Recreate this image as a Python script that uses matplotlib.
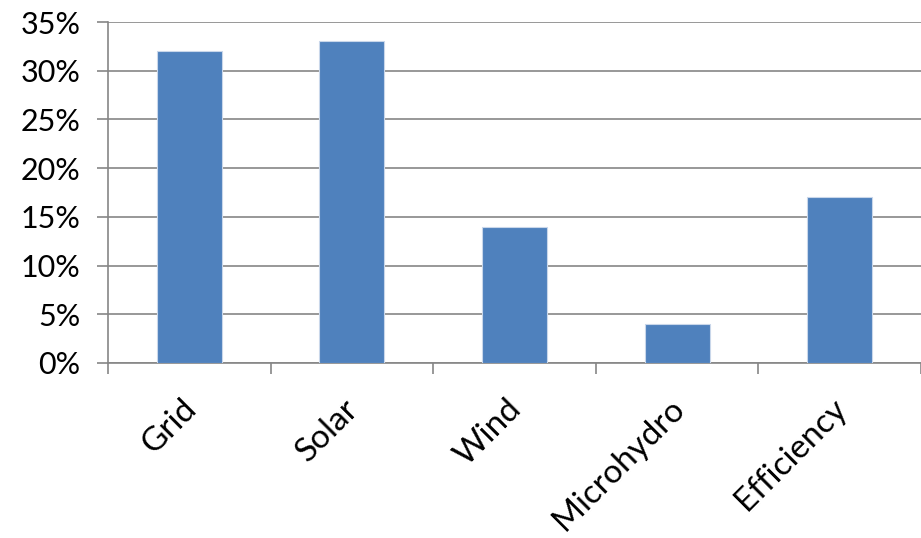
import matplotlib
matplotlib.use("Agg")
import matplotlib.pyplot as plt
from matplotlib.ticker import MultipleLocator, FuncFormatter, FixedLocator

categories = ["Grid", "Solar", "Wind", "Microhydro", "Efficiency"]
values = [32, 33, 14, 4, 17]

plt.rcParams['font.family'] = ['Lato', 'DejaVu Sans']

fig = plt.figure(figsize=(9.21, 5.38), dpi=100)
ax = fig.add_axes([108/921, 1-363/538, 1-108/921, (363-22)/538])

x = list(range(len(categories)))
ax.bar(x, values, width=0.4, color="#4F81BD", edgecolor="#C9D7EA", linewidth=0.8, zorder=3)

ax.set_xlim(-0.5, len(categories) - 0.5)
ax.set_ylim(0, 35)
ax.yaxis.set_major_locator(MultipleLocator(5))
ax.yaxis.set_major_formatter(FuncFormatter(lambda v, p: f"{int(v)}%"))
ax.grid(axis='y', color="#868686", linewidth=1.2, zorder=0)

for s in ['top', 'right']:
    ax.spines[s].set_visible(False)
ax.spines['left'].set_color("#868686")
ax.spines['bottom'].set_color("#868686")
ax.spines['left'].set_linewidth(1.2)
ax.spines['bottom'].set_linewidth(1.2)

ax.tick_params(axis='y', length=8, width=1.2, color="#868686", labelsize=22, pad=12)
ax.xaxis.set_major_locator(FixedLocator([i - 0.5 for i in range(len(categories) + 1)]))
ax.xaxis.set_major_formatter(FuncFormatter(lambda v, p: ""))
ax.tick_params(axis='x', length=8, width=1.2, color="#868686")

for i, c in enumerate(categories):
    ax.annotate(c, xy=(i, 0), xycoords=('data', 'axes fraction'),
                xytext=(-6, -22), textcoords='offset points',
                rotation=45, rotation_mode='anchor', ha='right', va='top',
                fontsize=24, color='black')

fig.savefig("out.png", dpi=100)
